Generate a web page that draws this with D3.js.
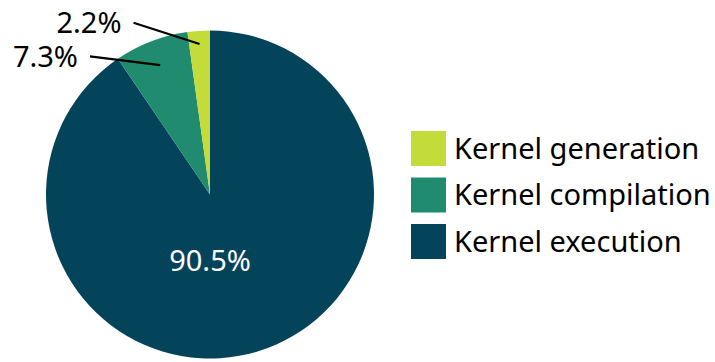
<!DOCTYPE html>
<html>
<head>
<meta charset="utf-8">
<script src="https://cdn.jsdelivr.net/npm/d3@7"></script>
<style>
  html, body { margin: 0; padding: 0; background: #fff; }
  svg { display: block; font-family: "Noto Sans", "Open Sans", sans-serif; }
</style>
</head>
<body>
<svg id="chart" width="715" height="362"></svg>
<script>
// Share of total time per stage (percent)
const categories = ["Kernel execution", "Kernel compilation", "Kernel generation"];
const values = [90.5, 7.3, 2.2];
const colors = ["#03445b", "#218b6f", "#c3dc39"];
// Legend order (top to bottom)
const legendOrder = ["Kernel generation", "Kernel compilation", "Kernel execution"];

const width = 715, height = 362;
const cx = 210, cy = 194.5, radius = 164;
const fontSize = 29;

const svg = d3.select("#chart");
const g = svg.append("g").attr("transform", `translate(${cx},${cy})`);

const color = d3.scaleOrdinal().domain(categories).range(colors);

const data = categories.map((c, i) => ({ name: c, value: values[i] }));
const pie = d3.pie().sort(null).value(d => d.value);
const arcs = pie(data);

const arc = d3.arc().innerRadius(0).outerRadius(radius);

g.selectAll("path.slice")
  .data(arcs)
  .join("path")
  .attr("class", "slice")
  .attr("d", arc)
  .attr("fill", d => color(d.data.name));

const fmt = v => v.toFixed(1) + "%";
const toXY = (angRad, r) => [Math.sin(angRad) * r, -Math.cos(angRad) * r];

// Large slice: label inside, below the centre
const big = arcs[0];
const [bx, by] = toXY(Math.PI, radius * 0.395);
g.append("text")
  .attr("x", bx).attr("y", by)
  .attr("text-anchor", "middle")
  .attr("dominant-baseline", "central")
  .attr("fill", "#ffffff")
  .attr("font-size", fontSize)
  .text(fmt(big.data.value));

// Small slices: labels outside with leader lines
// (leader start radius, label angle in degrees, label distance)
const callouts = {
  "Kernel compilation": { r0: 0.845, ang: -41, dist: 183 },
  "Kernel generation": { r0: 0.92, ang: -24, dist: 188 }
};

arcs.slice(1).forEach(d => {
  const cfg = callouts[d.data.name];
  const mid = (d.startAngle + d.endAngle) / 2;
  const [x0, y0] = toXY(mid, radius * cfg.r0);
  const [x1, y1] = toXY(cfg.ang * Math.PI / 180, cfg.dist);
  g.append("line")
    .attr("x1", x0).attr("y1", y0)
    .attr("x2", x1).attr("y2", y1)
    .attr("stroke", "#000")
    .attr("stroke-width", 2.2);
  g.append("text")
    .attr("x", x1 - 12).attr("y", y1 - 1)
    .attr("text-anchor", "end")
    .attr("dominant-baseline", "central")
    .attr("fill", "#000")
    .attr("font-size", fontSize)
    .text(fmt(d.data.value));
});

// Legend
const legend = svg.append("g").attr("transform", "translate(411,131)");
const rowH = 46.5, sw = 35;
const items = legend.selectAll("g.item")
  .data(legendOrder)
  .join("g")
  .attr("class", "item")
  .attr("transform", (d, i) => `translate(0,${i * rowH})`);
items.append("rect")
  .attr("width", sw).attr("height", sw)
  .attr("fill", d => color(d));
items.append("text")
  .attr("x", sw + 8).attr("y", sw / 2 - 1.5)
  .attr("dominant-baseline", "central")
  .attr("font-size", fontSize)
  .attr("fill", "#000")
  .text(d => d);
</script>
</body>
</html>
